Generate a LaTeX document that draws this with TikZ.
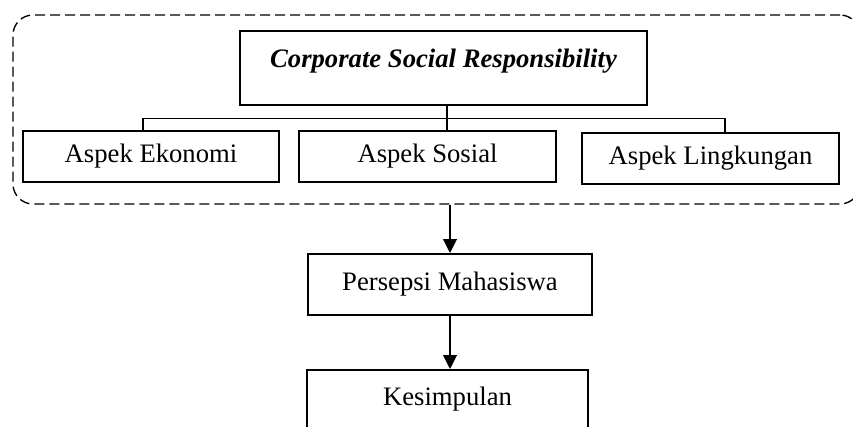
\documentclass[tikz,border=0pt]{standalone}
\usepackage{fontspec}
\setmainfont{Liberation Serif}
\usepackage{tikz}
\usetikzlibrary{arrows.meta}

\begin{document}
\begin{tikzpicture}[x=0.75pt,y=0.75pt,yscale=-1,xscale=1,
  box/.style={draw, line width=1.3pt, inner sep=0pt, align=center, font=\fontsize{20}{24}\selectfont},
  aspek/.style={box, minimum height=38.25pt},
  groupbox/.style={draw, dash pattern=on 7.5pt off 3.75pt, line width=1pt, rounded corners=15pt, minimum width=635.25pt, minimum height=141.75pt, inner sep=0pt},
  bus/.style={line width=1pt},
  arr/.style={line width=2pt, -{Triangle[length=10.5pt,width=10pt]}}]
\useasboundingbox (0,0) rectangle (853,426);
\clip (0,0) rectangle (853,426);
% dashed frame round the CSR block
\node [groupbox] (csrgroup) at (436.5,109.5) {};
\node [box, minimum width=305pt, text height=27pt, text depth=28.5pt, font=\fontsize{20}{24}\selectfont\bfseries\itshape] (csr) at (443.5,68) {Corporate Social Responsibility};
\node [aspek, minimum width=192pt] (ekonomi) at (151,156.5) {Aspek Ekonomi};
\node [aspek, minimum width=192.75pt] (sosial) at (427.5,156.5) {Aspek Sosial};
\node [aspek, minimum width=192.75pt] (lingkungan) at (710.5,158.5) {Aspek Lingkungan};
\node [box, minimum width=213pt, minimum height=45.75pt] (persepsi) at (450,284.5) {Persepsi Mahasiswa};
\node [box, minimum width=210.75pt, minimum height=43.5pt] (kesimpulan) at (447.5,399) {Kesimpulan};
% bus lines
\coordinate (busL) at (143,118.5);
\coordinate (busM) at (447,118.5);
\coordinate (busR) at (725,118.5);
\draw [bus] (busL |- ekonomi.north) -- (busL) -- (busR) -- (busR |- lingkungan.north);
\draw [bus] (busM |- csr.south) -- (busM |- sosial.north);
% arrows
\draw [arr] (persepsi.north |- csrgroup.south) -- (persepsi.north);
\draw [arr] (persepsi.south) -- (persepsi.south |- kesimpulan.north);
\end{tikzpicture}
\end{document}
